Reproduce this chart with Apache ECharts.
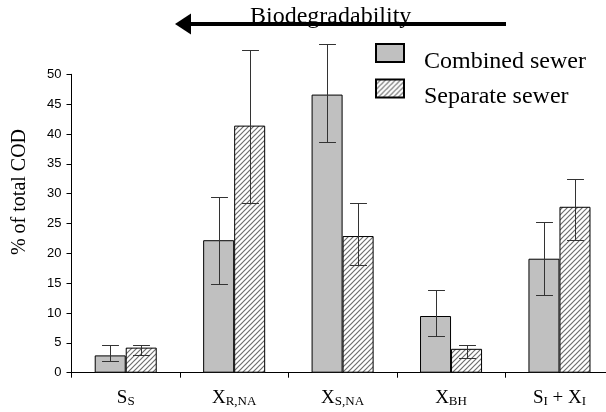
<!DOCTYPE html>
<html>
<head>
<meta charset="utf-8">
<script src="https://cdn.jsdelivr.net/npm/echarts@6/dist/echarts.min.js"></script>
<style>
  html, body { margin: 0; padding: 0; background: #fff; }
  #chart { width: 606px; height: 412px; }
</style>
</head>
<body>
<div id="chart"></div>
<script>
// ---- data ----
const categories = ['S_S', 'X_R,NA', 'X_S,NA', 'X_BH', 'S_I + X_I'];
const seriesNames = ['Combined sewer', 'Separate sewer'];
const combinedValues = [2.9, 22.2, 46.6, 9.5, 19.1];
const combinedLow    = [2.0, 14.8, 38.6, 6.1, 13.0];
const combinedHigh   = [4.65, 29.4, 55.1, 13.9, 25.2];
const separateValues = [4.2, 41.4, 22.9, 4.0, 27.8];
const separateLow    = [3.0, 28.4, 18.0, 2.5, 22.2];
const separateHigh   = [4.6, 54.1, 28.4, 4.6, 32.4];
const yTicks = { min: 0, max: 50, interval: 5 };
const axisTitle = '% of total COD';
const arrowLabel = 'Biodegradability';

// ---- hatch pattern ----
function makeHatch() {
  const s = 5;
  const c = document.createElement('canvas');
  c.width = s; c.height = s;
  const g = c.getContext('2d');
  g.fillStyle = '#ffffff';
  g.fillRect(0, 0, s, s);
  g.strokeStyle = '#6e6e6e';
  g.lineWidth = 1.2;
  g.beginPath();
  g.moveTo(-1, s + 1); g.lineTo(s + 1, -1);
  g.moveTo(-1, 1); g.lineTo(1, -1);
  g.moveTo(s - 1, s + 1); g.lineTo(s + 1, s - 1);
  g.stroke();
  return c;
}
const hatch = { image: makeHatch(), repeat: 'repeat' };

function fmtLabel(v) {
  return v.split(' ').map(function (w) {
    const i = w.indexOf('_');
    return i < 0 ? '{m|' + w + '}' : '{m|' + w.slice(0, i) + '}{s|' + w.slice(i + 1) + '}';
  }).join('{m| }');
}

function errRender(sign) {
  return function (params, api) {
    const i = api.value(0);
    const lo = api.value(1);
    const hi = api.value(2);
    const band = api.size([1, 0])[0];
    const top = api.coord([i, hi]);
    const bot = api.coord([i, lo]);
    const x = Math.round(top[0] + sign * band * 0.143) + 0.5;
    const half = band * 0.078;
    const yt = Math.round(top[1]) + 0.5;
    const yb = Math.round(bot[1]) + 0.5;
    const st = { stroke: '#333', lineWidth: 1 };
    return {
      type: 'group',
      children: [
        { type: 'line', shape: { x1: x, y1: yt, x2: x, y2: yb }, style: st },
        { type: 'line', shape: { x1: x - half, y1: yt, x2: x + half, y2: yt }, style: st },
        { type: 'line', shape: { x1: x - half, y1: yb, x2: x + half, y2: yb }, style: st }
      ]
    };
  };
}

const chart = echarts.init(document.getElementById('chart'), null, { renderer: 'canvas' });
const serif = 'Liberation Serif, Times New Roman, serif';
const sans = 'Liberation Sans, Arial, sans-serif';

chart.setOption({
  animation: false,
  backgroundColor: '#fff',
  grid: { left: 71.5, right: -7.7, top: 74.3, bottom: 39.3, containLabel: false, outerBoundsMode: 'none' },
  legend: {
    data: seriesNames,
    orient: 'vertical',
    left: 375,
    top: 43,
    padding: 0,
    itemWidth: 28,
    itemHeight: 18,
    itemGap: 5,
    icon: 'rect',
    formatter: function (name) { return '{t|' + name + '}'; },
    textStyle: {
      color: '#000',
      rich: { t: { fontFamily: serif, fontSize: 24, color: '#000', padding: [17, 0, 0, 15] } }
    }
  },
  xAxis: {
    type: 'category',
    data: categories,
    axisLine: { lineStyle: { color: '#000', width: 1 } },
    axisTick: { show: true, length: 5, interval: 0, lineStyle: { color: '#000' } },
    axisLabel: {
      margin: 15,
      interval: 0,
      color: '#000',
      formatter: fmtLabel,
      rich: {
        m: { fontFamily: serif, fontSize: 19, lineHeight: 20, color: '#000' },
        s: { fontFamily: serif, fontSize: 13, lineHeight: 13, verticalAlign: 'bottom', color: '#000' }
      }
    }
  },
  yAxis: {
    type: 'value',
    min: yTicks.min,
    max: yTicks.max,
    interval: yTicks.interval,
    splitLine: { show: false },
    axisLine: { show: true, lineStyle: { color: '#000', width: 1 } },
    axisTick: { show: true, length: 5, lineStyle: { color: '#000' } },
    axisLabel: { color: '#000', fontFamily: sans, fontSize: 13, margin: 10 }
  },
  graphic: [
    {
      type: 'text', x: 20, y: 192, rotation: Math.PI / 2,
      style: { text: axisTitle, font: '20px ' + serif, fill: '#000', align: 'center', verticalAlign: 'middle' }
    },
    {
      type: 'text', x: 250, y: 17,
      style: { text: arrowLabel, font: '24px ' + serif, fill: '#000', align: 'left', verticalAlign: 'middle' }
    },
    {
      type: 'line', shape: { x1: 188, y1: 24, x2: 506, y2: 24 },
      style: { stroke: '#000', lineWidth: 4 }
    },
    {
      type: 'polygon', shape: { points: [[175, 24], [191, 13.5], [191, 34.5]] },
      style: { fill: '#000' }
    }
  ],
  series: [
    {
      name: seriesNames[0], type: 'bar', data: combinedValues,
      barWidth: '28.6%', barGap: '0%',
      itemStyle: { color: '#c0c0c0', borderColor: '#000', borderWidth: 1 }
    },
    {
      name: seriesNames[1], type: 'bar', data: separateValues,
      barWidth: '28.6%', barGap: '0%',
      itemStyle: { color: hatch, borderColor: '#000', borderWidth: 1 }
    },
    {
      type: 'custom', name: 'err1', renderItem: errRender(-1), clip: false, z: 5,
      encode: { x: 0, y: [1, 2] },
      data: combinedLow.map(function (l, i) { return [i, l, combinedHigh[i]]; })
    },
    {
      type: 'custom', name: 'err2', renderItem: errRender(1), clip: false, z: 5,
      encode: { x: 0, y: [1, 2] },
      data: separateLow.map(function (l, i) { return [i, l, separateHigh[i]]; })
    }
  ]
});
</script>
</body>
</html>
